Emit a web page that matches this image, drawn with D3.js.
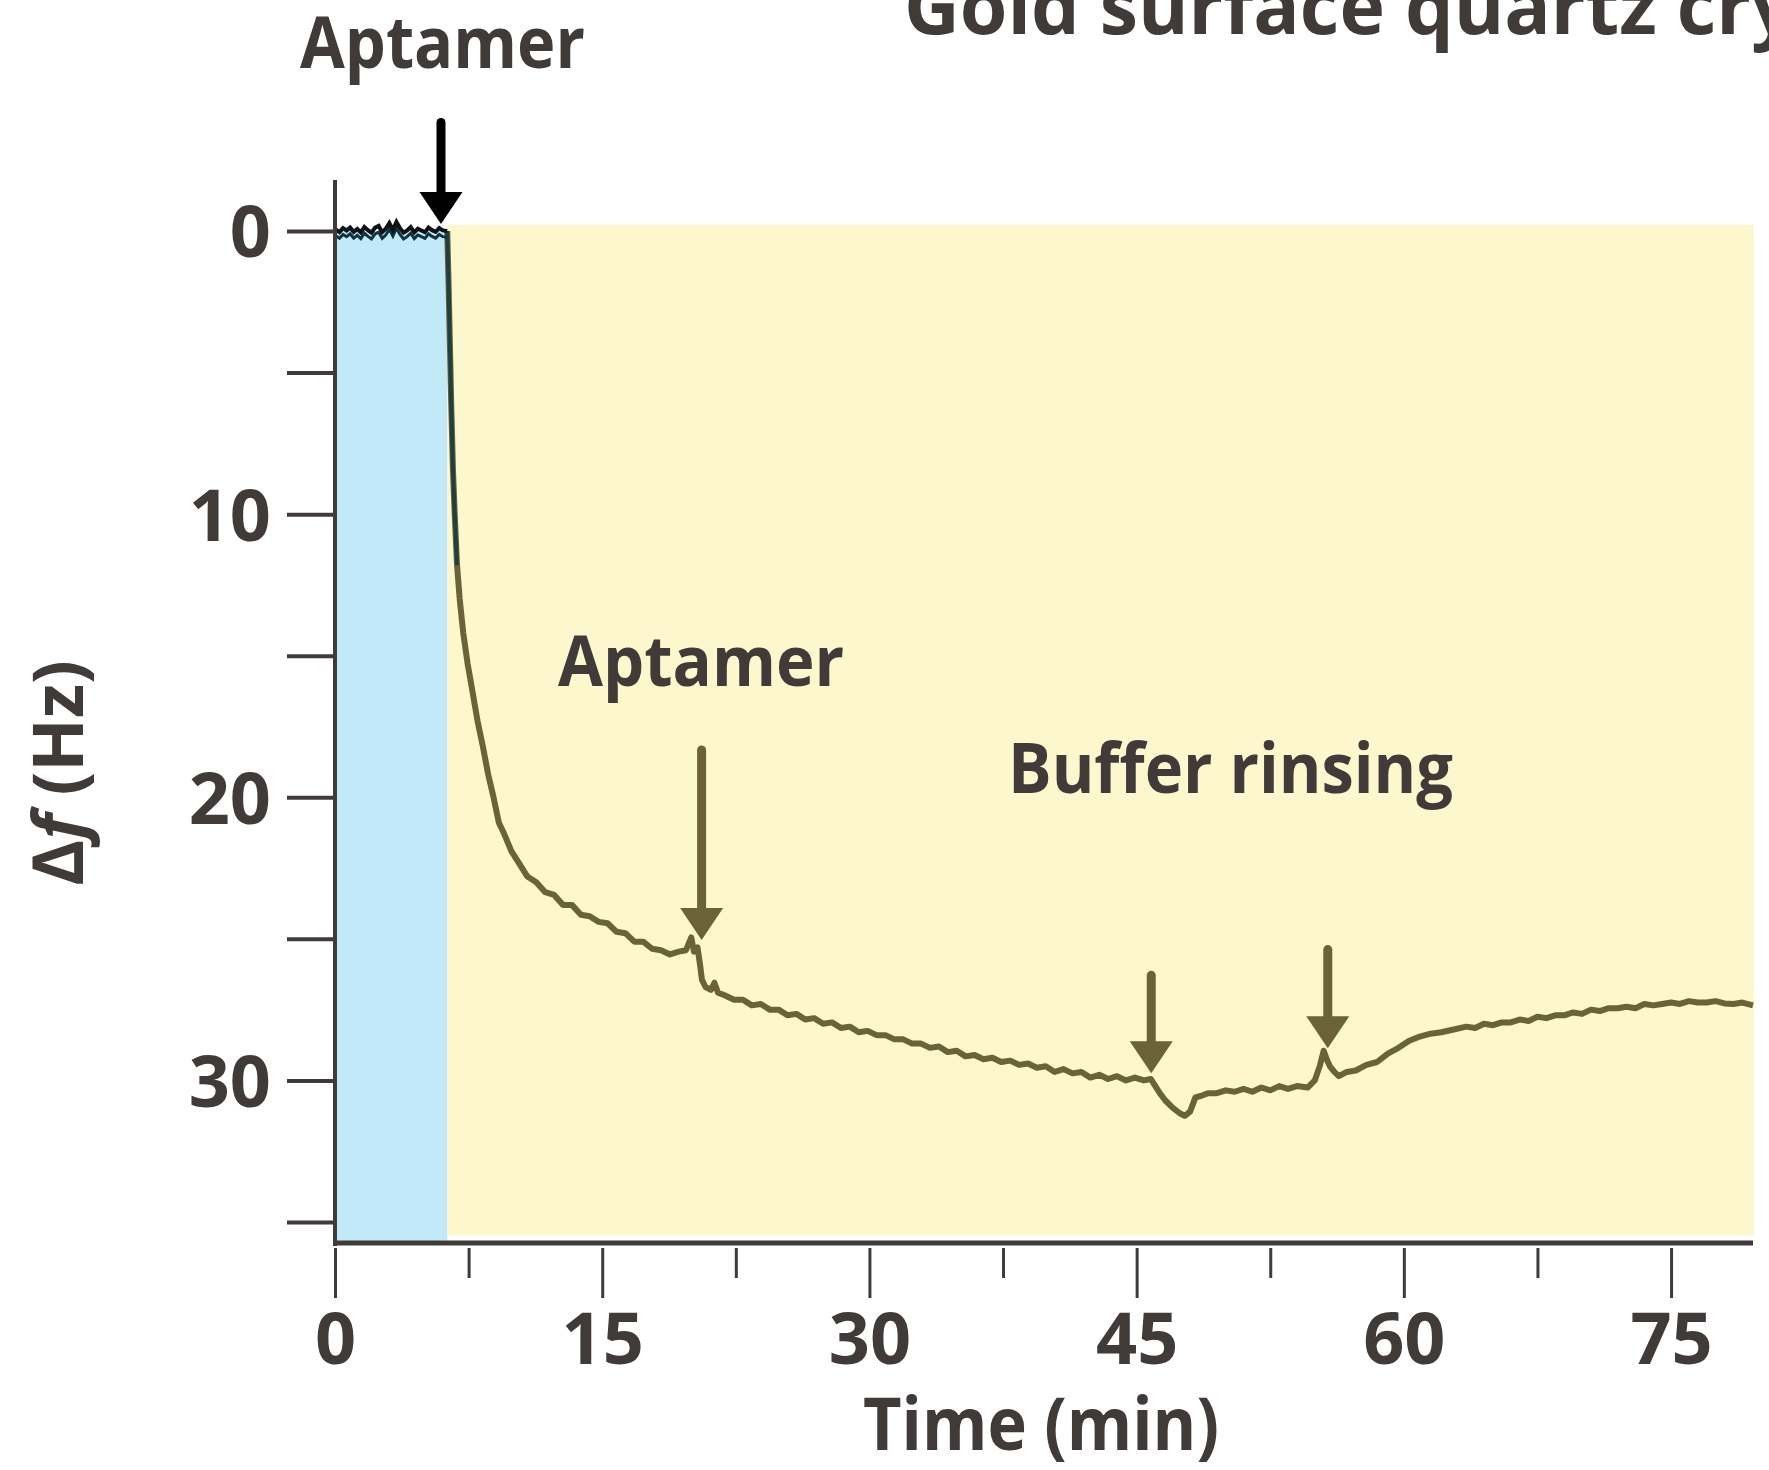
<!DOCTYPE html>
<html>
<head>
<meta charset="utf-8">
<script src="https://cdn.jsdelivr.net/npm/d3@7"></script>
<style>
  html, body { margin: 0; padding: 0; background: #fff; }
  svg { display: block; }
  text { font-family: "Open Sans", "DejaVu Sans", sans-serif; font-weight: 700; fill: #403b38; }
</style>
</head>
<body>
<svg id="chart" width="1769" height="1470"></svg>
<script>
// ---------- data ----------
const xTickValues = [0, 15, 30, 45, 60, 75];
const xMinorTickValues = [7.5, 22.5, 37.5, 52.5, 67.5];
const yTickValues = [0, 5, 10, 15, 20, 25, 30, 35];
const yLabelValues = [0, 10, 20, 30];

// baseline before aptamer injection (time min, delta f Hz)
const baselineTime = [0.05,0.25,0.45,0.65,0.85,1.05,1.25,1.45,1.65,1.85,2.05,2.25,2.45,2.65,2.85,3.05,3.25,3.45,3.65,3.85,4.05,4.25,4.45,4.65,4.85,5.05,5.25,5.45,5.65,5.85,6.05,6.3];
const baselineHz   = [-0.05,0.04,-0.1,-0.02,-0.12,0.03,-0.07,0.05,-0.14,-0.03,0.06,-0.12,-0.18,0.04,-0.08,-0.28,-0.04,-0.32,-0.1,0.06,-0.02,-0.14,0.05,-0.08,-0.02,0.04,-0.12,-0.03,0.03,-0.1,-0.02,0.0];

// response trace
const traceTime = [6.30,6.38,6.45,6.52,6.62,6.72,6.85,7.0,7.2,7.45,7.7,8.0,8.3,8.6,8.9,9.2,9.5,9.9,10.3,10.8,11.3,11.8,12.3,12.8,13.3,13.8,14.3,14.8,15.3,15.8,16.3,16.8,17.3,17.8,18.3,18.8,19.3,19.7,20.0,20.15,20.35,20.5,20.6,20.8,21.1,21.3,21.5,21.9,22.4,22.9,23.4,23.9,24.4,24.9,25.4,25.9,26.4,26.9,27.4,27.9,28.4,28.9,29.4,29.9,30.4,30.9,31.4,31.9,32.4,32.9,33.4,33.9,34.4,34.9,35.4,35.9,36.4,36.9,37.4,37.9,38.4,38.9,39.4,39.9,40.4,40.9,41.4,41.9,42.4,42.9,43.4,43.9,44.4,44.9,45.4,45.8,46.05,46.3,46.6,47.0,47.4,47.7,48.0,48.3,48.6,49.0,49.5,50.0,50.5,51.0,51.5,52.0,52.5,53.0,53.5,54.0,54.6,55.0,55.3,55.5,55.7,55.85,56.1,56.35,56.8,57.3,57.9,58.5,59.1,59.7,60.3,60.9,61.5,62.1,62.8,63.5,64.0,64.5,65.0,65.5,66.0,66.5,67.0,67.5,68.0,68.5,69.0,69.5,70.0,70.5,71.0,71.5,72.0,72.5,73.0,73.5,74.0,74.5,75.0,75.5,76.0,76.5,77.0,77.5,78.0,78.5,79.0,79.6];
const traceHz   = [0.0,2.0,4.0,6.0,8.4,10.0,11.8,13.0,14.2,15.3,16.2,17.3,18.2,19.2,20.0,20.9,21.3,21.9,22.3,22.8,23.0,23.35,23.45,23.8,23.8,24.15,24.2,24.4,24.45,24.75,24.8,25.1,25.1,25.35,25.4,25.55,25.45,25.4,24.95,25.45,25.3,25.95,26.45,26.7,26.8,26.55,26.9,27.0,27.15,27.15,27.35,27.3,27.5,27.5,27.7,27.65,27.85,27.8,28.0,27.95,28.15,28.1,28.3,28.25,28.4,28.4,28.55,28.55,28.7,28.7,28.85,28.8,29.0,28.95,29.15,29.1,29.25,29.2,29.35,29.3,29.45,29.4,29.55,29.5,29.7,29.6,29.75,29.7,29.9,29.8,29.95,29.85,30.0,29.9,30.0,29.95,30.2,30.45,30.7,30.95,31.15,31.25,31.1,30.6,30.55,30.45,30.45,30.35,30.4,30.3,30.4,30.25,30.35,30.2,30.3,30.2,30.25,30.0,29.45,28.95,29.3,29.5,29.7,29.85,29.7,29.65,29.45,29.35,29.05,28.85,28.6,28.45,28.35,28.3,28.2,28.1,28.15,28.0,28.05,27.95,27.95,27.85,27.9,27.75,27.8,27.7,27.7,27.6,27.65,27.5,27.55,27.45,27.45,27.4,27.45,27.3,27.35,27.3,27.25,27.3,27.2,27.25,27.25,27.2,27.28,27.3,27.25,27.35];

// annotation arrows: time (min), shaft top (Hz), tip (Hz)
const arrowTime  = [5.95, 20.58, 45.82, 55.73];
const arrowTopHz = [-3.99, 18.17, 26.13, 25.22];
const arrowTipHz = [-0.25, 25.04, 29.75, 28.86];
const arrowColor = ["#000000", "#6b6337", "#6b6337", "#6b6337"];

// shaded phases: [start min, end min, top Hz, bottom Hz]
const phaseStart  = [0, 6.31];
const phaseEnd    = [6.31, 79.65];
const phaseTopHz  = [0, -0.22];
const phaseBotHz  = [35.8, 35.48];
const phaseColor  = ["#c2e9f8", "#fcf7cd"];

// ---------- drawing ----------
const svg = d3.select("#chart");
svg.append("rect").attr("width", 1769).attr("height", 1470).attr("fill", "#fff");

const x = d3.scaleLinear().domain([0, 79.6]).range([335, 1753]);
const y = d3.scaleLinear().domain([0, 35]).range([231, 1222]);
const ink = "#403b38";

// phases
svg.append("g").selectAll("rect").data(phaseStart).join("rect")
  .attr("x", (d, i) => x(d) + (i === 0 ? 2 : 0))
  .attr("y", (d, i) => y(phaseTopHz[i]))
  .attr("width", (d, i) => x(phaseEnd[i]) - x(d) - (i === 0 ? 2 : 0))
  .attr("height", (d, i) => y(phaseBotHz[i]) - y(phaseTopHz[i]))
  .attr("fill", (d, i) => phaseColor[i]);

// trace
const line = d3.line().x(d => x(d[0])).y(d => y(d[1])).curve(d3.curveLinear)
  .defined(d => d[1] != null);
const traceData = traceTime.map((t, i) => [t, traceHz[i]]);
const baseData = baselineTime.map((t, i) => [t, baselineHz[i]]);

svg.append("path").datum(traceData).attr("d", line)
  .attr("fill", "none").attr("stroke", "#6b6337").attr("stroke-width", 6)
  .attr("stroke-linejoin", "round");
svg.append("path").datum(traceData.slice(0, 7)).attr("d", line)
  .attr("fill", "none").attr("stroke", "#1f3f40").attr("stroke-width", 4);
svg.append("path").datum(baseData.map(d => [d[0], d[1] + 0.22])).attr("d", line)
  .attr("fill", "none").attr("stroke", "#0f3441").attr("stroke-width", 3);
svg.append("path").datum(baseData).attr("d", line)
  .attr("fill", "none").attr("stroke", "#111").attr("stroke-width", 4);

// y axis
svg.append("line").attr("x1", x(0)).attr("x2", x(0))
  .attr("y1", y(-1.8)).attr("y2", y(35.85))
  .attr("stroke", ink).attr("stroke-width", 4);
const yAxis = d3.axisLeft(y).tickValues(yTickValues).tickSize(48).tickPadding(16)
  .tickFormat(d => yLabelValues.includes(d) ? d : "");
const gy = svg.append("g").attr("transform", `translate(${x(0)},0)`).call(yAxis);
gy.select(".domain").remove();
gy.selectAll(".tick line").attr("stroke", ink).attr("stroke-width", 4);
gy.selectAll(".tick text").attr("font-size", 72).attr("dy", "0.36em")
  .style("font-family", '"Open Sans", sans-serif').style("font-weight", 700).attr("fill", ink);

// x axis
svg.append("line").attr("x1", x(0)).attr("x2", x(79.6))
  .attr("y1", 1243).attr("y2", 1243)
  .attr("stroke", ink).attr("stroke-width", 5);
const xAxis = d3.axisBottom(x).tickValues(xTickValues).tickSize(50).tickPadding(15);
const gx = svg.append("g").attr("transform", "translate(0,1248)").call(xAxis);
gx.select(".domain").remove();
gx.selectAll(".tick line").attr("stroke", ink).attr("stroke-width", 3);
gx.selectAll(".tick text").attr("font-size", 72)
  .style("font-family", '"Open Sans", sans-serif').style("font-weight", 700).attr("fill", ink);
const xMinor = d3.axisBottom(x).tickValues(xMinorTickValues).tickSize(30).tickFormat("");
const gxm = svg.append("g").attr("transform", "translate(0,1248)").call(xMinor);
gxm.select(".domain").remove();
gxm.selectAll(".tick line").attr("stroke", ink).attr("stroke-width", 3);

// axis titles
svg.append("text").attr("x", 1041).attr("y", 1450).attr("text-anchor", "middle")
  .attr("font-size", 73).attr("textLength", 356).attr("lengthAdjust", "spacingAndGlyphs")
  .text("Time (min)");
const yl = svg.append("text").attr("transform", "translate(83,773) rotate(-90)")
  .attr("text-anchor", "middle").attr("font-size", 70);
yl.append("tspan").text("Δ");
yl.append("tspan").attr("font-style", "italic").text("f");
yl.append("tspan").text(" (Hz)");

// arrows
const headH = 32, headW = 43, shaftW = 9;
arrowTime.forEach((t, i) => {
  const ax = x(t), top = y(arrowTopHz[i]), tip = y(arrowTipHz[i]);
  const g = svg.append("g");
  g.append("line").attr("x1", ax).attr("x2", ax).attr("y1", top + shaftW / 2).attr("y2", tip - headH + 2)
    .attr("stroke", arrowColor[i]).attr("stroke-width", shaftW).attr("stroke-linecap", "round");
  g.append("path")
    .attr("d", `M${ax - headW / 2},${tip - headH} L${ax + headW / 2},${tip - headH} L${ax},${tip} Z`)
    .attr("fill", arrowColor[i]);
});

// annotation labels
svg.append("text").attr("x", 300).attr("y", 68).attr("font-size", 71)
  .attr("textLength", 285).attr("lengthAdjust", "spacingAndGlyphs").text("Aptamer");
svg.append("text").attr("x", 558).attr("y", 686).attr("font-size", 70)
  .attr("textLength", 286).attr("lengthAdjust", "spacingAndGlyphs").text("Aptamer");
svg.append("text").attr("x", 1008).attr("y", 793).attr("font-size", 70)
  .attr("textLength", 445).attr("lengthAdjust", "spacingAndGlyphs").text("Buffer rinsing");
svg.append("text").attr("x", 904).attr("y", 34).attr("font-size", 77)
  .text("Gold surface quartz crystal");
</script>
</body>
</html>
